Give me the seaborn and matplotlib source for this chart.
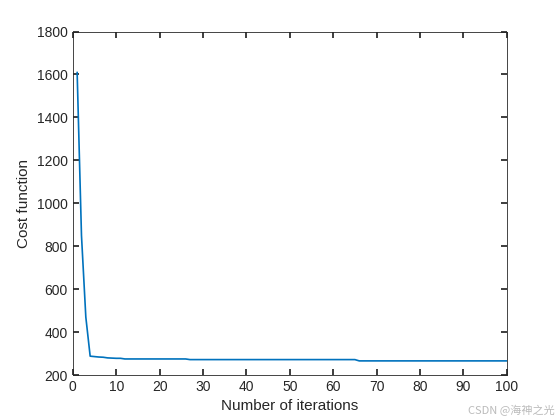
import numpy as np
import matplotlib
matplotlib.use("Agg")
import matplotlib.pyplot as plt
import seaborn as sns

# breakpoints of the convergence curve (step-like plateaus)
iters = [1, 2, 3, 4, 5, 6, 7, 8, 9, 10, 11, 12, 26, 27, 65, 66, 100]
cost = [1610, 850, 470, 288, 286, 284, 283, 280, 279, 278, 278, 275, 275, 272, 272, 266, 266]

sns.set_theme(style="white")
plt.rcParams['font.family'] = ['Arial', 'Liberation Sans', 'DejaVu Sans']

fig, ax = plt.subplots(figsize=(5.6, 4.2), dpi=100)
sns.lineplot(x=iters, y=cost, ax=ax, color='#0072BD', linewidth=1.2)
ax.set_xlim(0, 100)
ax.set_ylim(200, 1800)
ax.set_xticks(range(0, 101, 10))
ax.set_yticks(range(200, 1801, 200))
ax.set_xlabel('Number of iterations', fontsize=11)
ax.set_ylabel('Cost function', fontsize=11)
ax.tick_params(labelsize=10, direction='in', length=4, top=True, right=True,
               bottom=True, left=True, colors='#262626')
for s in ax.spines.values():
    s.set_color('#262626')
    s.set_linewidth(0.6)
plt.subplots_adjust(left=0.13, right=0.905, top=0.925, bottom=0.107)
fig.text(0.99, 0.015, 'CSDN @海神之光', ha='right', fontsize=8, color='#bbbbbb',
         family=['Noto Sans CJK SC', 'DejaVu Sans'])
plt.savefig('out.png', dpi=100)
